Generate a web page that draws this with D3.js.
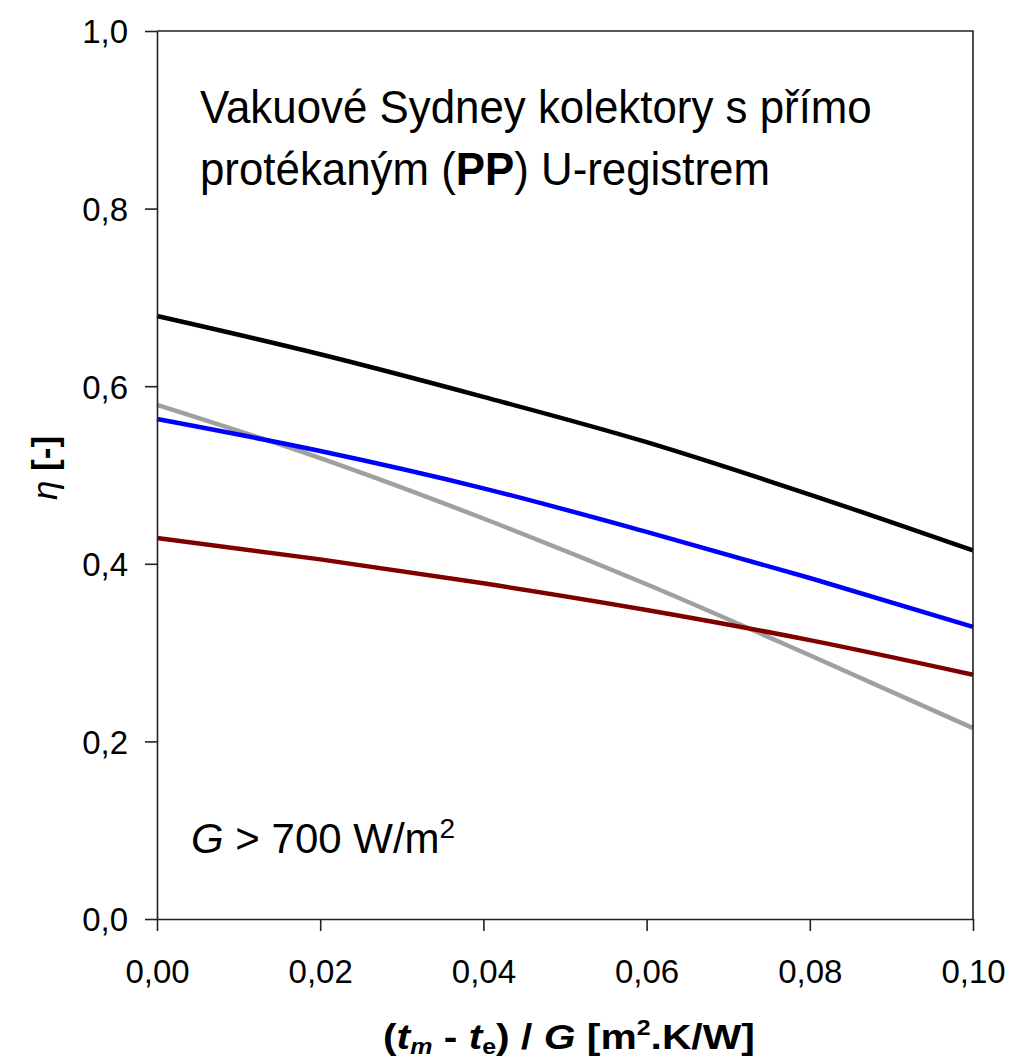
<!DOCTYPE html>
<html>
<head>
<meta charset="utf-8">
<script src="https://cdn.jsdelivr.net/npm/d3@7"></script>
<style>
  body { margin: 0; background: #fff; }
  svg { display: block; font-family: "Liberation Sans", Arial, sans-serif; }
</style>
</head>
<body>
<div id="chart"></div>
<script>
// values
const xValues = [0, 0.02, 0.04, 0.06, 0.08, 0.10];
const blackSeries = [0.679, 0.636, 0.588, 0.537, 0.478, 0.415];
const blueSeries = [0.563, 0.527, 0.485, 0.436, 0.384, 0.329];
const graySeries = [0.579, 0.519, 0.451, 0.377, 0.297, 0.215];
const redSeries = [0.429, 0.405, 0.378, 0.348, 0.314, 0.275];
const xTicks = [0, 0.02, 0.04, 0.06, 0.08, 0.10];
const yTicks = [0, 0.2, 0.4, 0.6, 0.8, 1.0];

const series = [
  { name: 'gray', values: graySeries, color: '#a0a0a0' },
  { name: 'red', values: redSeries, color: '#800000' },
  { name: 'blue', values: blueSeries, color: '#0000ff' },
  { name: 'black', values: blackSeries, color: '#000000' }
];

const width = 1014, height = 1063;
const margin = { top: 31, right: 41, bottom: 144, left: 157 };

const svg = d3.select('#chart').append('svg')
  .attr('width', width)
  .attr('height', height);

const x = d3.scaleLinear().domain([0, 0.10]).range([margin.left, width - margin.right]);
const y = d3.scaleLinear().domain([0, 1.0]).range([height - margin.bottom, margin.top]);

const comma = f => v => d3.format(f)(v).replace('.', ',');

// squeeze a text horizontally to a target width
function fitWidth(sel, x0, y0, w) {
  const len = sel.node().getComputedTextLength();
  sel.attr('transform', `translate(${x0},${y0}) scale(${w / len},1)`);
}

// lines
const line = d3.line()
  .x((d, i) => x(xValues[i]))
  .y(d => y(d))
  .curve(d3.curveMonotoneX);

svg.append('g')
  .selectAll('path')
  .data(series)
  .join('path')
  .attr('fill', 'none')
  .attr('stroke', d => d.color)
  .attr('stroke-width', 4.5)
  .attr('d', d => line(d.values));

// frame (top and right)
svg.append('path')
  .attr('fill', 'none')
  .attr('stroke', '#222')
  .attr('stroke-width', 1.6)
  .attr('d', `M${x(0)},${y(1)}H${x(0.10)}V${y(0)}`);

// axes
const xAxis = svg.append('g')
  .attr('transform', `translate(0,${y(0)})`)
  .call(d3.axisBottom(x).tickValues(xTicks).tickFormat(comma('.2f')).tickSize(12).tickSizeOuter(0));

const yAxis = svg.append('g')
  .attr('transform', `translate(${x(0)},0)`)
  .call(d3.axisLeft(y).tickValues(yTicks).tickFormat(comma('.1f')).tickSize(12).tickSizeOuter(0));

[xAxis, yAxis].forEach(a => {
  a.selectAll('path, line').attr('stroke', '#222').attr('stroke-width', 1.6);
  a.selectAll('text').attr('fill', '#000').attr('font-size', 33)
    .attr('font-family', '"Liberation Sans", Arial, sans-serif');
});
xAxis.selectAll('text').attr('dy', 0).attr('y', 64);
yAxis.selectAll('text').attr('x', -29).attr('dy', '0.36em');

// x axis title
const xt = svg.append('text')
  .attr('font-size', 36)
  .attr('font-weight', 'bold');
xt.append('tspan').text('(');
xt.append('tspan').attr('font-style', 'italic').text('t');
xt.append('tspan').attr('font-style', 'italic').attr('font-size', 22).attr('dy', 5).text('m');
xt.append('tspan').attr('dy', -5).text(' - ');
xt.append('tspan').attr('font-style', 'italic').text('t');
xt.append('tspan').attr('font-size', 22).attr('dy', 5).text('e');
xt.append('tspan').attr('dy', -5).text(') / ');
xt.append('tspan').attr('font-style', 'italic').text('G');
xt.append('tspan').text('  [m');
xt.append('tspan').attr('font-size', 22).attr('dy', -14).text('2');
xt.append('tspan').attr('dy', 14).text('.K/W]');
fitWidth(xt, 383, 1049, 372);

// y axis title
const yt = svg.append('text')
  .attr('transform', `translate(57,${468}) rotate(-90)`)
  .attr('text-anchor', 'middle')
  .attr('font-size', 35)
  .attr('font-weight', 'bold');
yt.append('tspan').attr('font-style', 'italic').attr('font-weight', 'normal').text('η');
yt.append('tspan').text(' [-]');

// annotation text
const t1 = svg.append('text')
  .attr('font-size', 47)
  .text('Vakuové Sydney kolektory s přímo');
fitWidth(t1, 200, 123, 672);

const t2 = svg.append('text')
  .attr('font-size', 47);
t2.append('tspan').text('protékaným (');
t2.append('tspan').attr('font-weight', 'bold').text('PP');
t2.append('tspan').text(') U-registrem');
fitWidth(t2, 200, 185, 570);

const g = svg.append('text')
  .attr('x', 191).attr('y', 853)
  .attr('font-size', 42);
g.append('tspan').attr('font-style', 'italic').text('G');
g.append('tspan').text(' > 700 W/m');
g.append('tspan').attr('font-size', 28).attr('dy', -15).text('2');
</script>
</body>
</html>
